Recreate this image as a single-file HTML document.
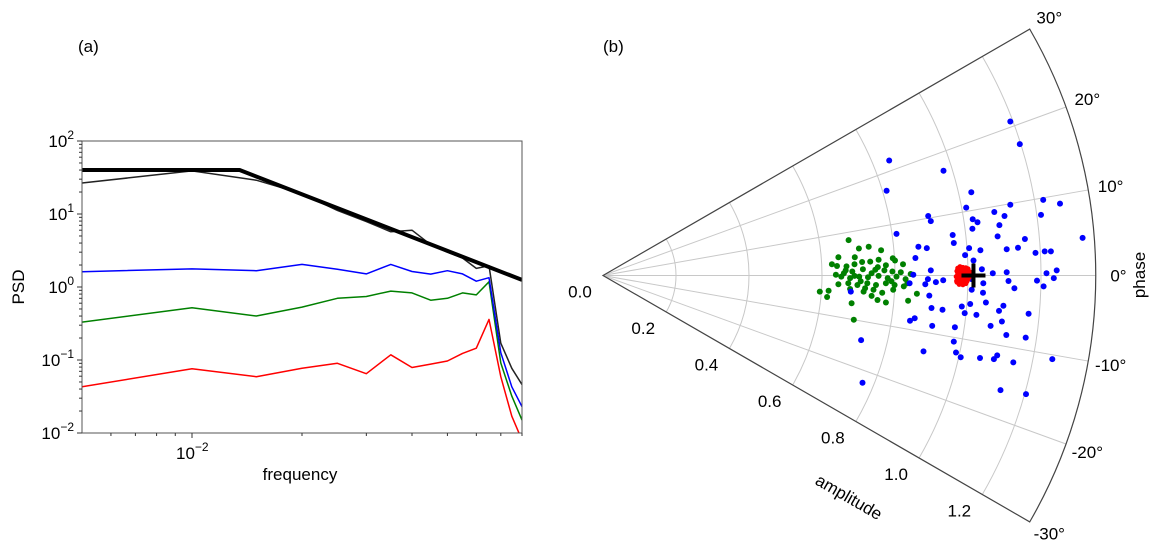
<!DOCTYPE html>
<html><head><meta charset="utf-8"><style>
html,body{margin:0;padding:0;background:#fff;}
svg{display:block;font-family:"Liberation Sans","DejaVu Sans",sans-serif;}
</style></head><body>
<svg id="fig" width="1159" height="547" viewBox="0 0 1159 547" xmlns="http://www.w3.org/2000/svg">
<rect width="1159" height="547" fill="#fff"/>
<text x="78" y="52" font-size="17">(a)</text>
<text x="603" y="52" font-size="17">(b)</text>
<g id="psd"></g>
<g id="polar"></g>
</svg>
<script>
// ---------- Panel (a) data ----------
const freqs = [0.005,0.01,0.015,0.02,0.025,0.03,0.035,0.04,0.045,0.05,0.055,0.06,0.065,0.07,0.075,0.08];
const psdBlack = [26.6,39,29,19,11.2,7.9,5.7,6.0,3.8,3.0,2.5,1.8,1.95,0.17,0.077,0.046];
const psdBlue = [1.62,1.77,1.67,2.04,1.75,1.51,2.04,1.63,1.50,1.67,1.51,1.2,1.34,0.126,0.043,0.023];
const psdGreen = [0.33,0.52,0.40,0.53,0.70,0.74,0.88,0.83,0.66,0.70,0.83,0.78,1.18,0.091,0.032,0.015];
const psdRed = [0.043,0.076,0.059,0.077,0.090,0.065,0.118,0.079,0.088,0.097,0.123,0.145,0.36,0.059,0.017,0.008];
const modelFreq = [0.005,0.0135,0.08];
const modelPsd = [40,40,1.25];
const yTickExps = [-2,-1,0,1,2];
const xTickExps = [-2];

// ---------- Panel (b) data ----------
const blueRe = [1.116,1.142,0.784,0.933,0.777,1.009,1.206,1.252,1.116,0.995,1.072,1.100,1.200,0.891,0.898,1.013,1.026,1.086,1.012,0.804,0.958,1.081,1.314,0.961,1.156,0.864,0.887,1.003,1.034,1.106,1.137,1.185,1.210,1.227,0.856,0.992,1.015,0.898,1.038,1.068,1.106,1.215,1.243,1.189,1.235,0.850,0.890,0.912,0.932,0.883,1.042,1.111,1.207,1.127,0.840,1.010,1.041,0.894,1.049,1.006,0.983,1.097,1.085,0.900,0.930,0.991,1.023,1.166,0.854,0.841,1.093,1.062,0.902,0.964,1.105,1.158,0.707,0.961,0.878,0.967,0.980,1.033,1.071,1.080,1.124,1.231,0.711,1.089,1.159,0.679,1.010];
const blueIm = [0.422,0.360,0.315,0.287,0.232,0.228,0.207,0.197,0.194,0.186,0.174,0.163,0.166,0.163,0.149,0.154,0.146,0.138,0.128,0.114,0.111,0.107,0.103,0.089,0.100,0.079,0.075,0.075,0.069,0.072,0.076,0.062,0.066,0.066,0.048,0.056,0.041,0.014,0.017,0.006,0.009,0.006,0.014,-0.014,-0.007,0.002,-0.010,-0.018,-0.013,-0.024,-0.021,-0.015,-0.030,-0.035,-0.021,-0.039,-0.047,-0.055,-0.074,-0.078,-0.085,-0.083,-0.097,-0.089,-0.094,-0.103,-0.108,-0.105,-0.117,-0.124,-0.126,-0.138,-0.138,-0.142,-0.163,-0.170,-0.177,-0.181,-0.208,-0.211,-0.224,-0.226,-0.229,-0.219,-0.238,-0.229,-0.294,-0.314,-0.325,-0.044,-0.010];
const greenRe = [.673,.645,.627,.690,.701,.728,.762,.641,.667,.689,.710,.732,.755,.775,.794,.800,.822,.660,.683,.712,.746,.771,.793,.816,.843,.653,.677,.702,.726,.755,.780,.804,.829,.645,.672,.697,.724,.748,.775,.799,.824,.594,.618,.677,.714,.741,.765,.795,.860,.614,.681,.752,.775,.836,.687,.638,.665,.706,.736,.790,.718,.753,.689,.834,.736];
const greenIm = [.097,.050,.031,.050,.074,.079,.069,.026,.025,.031,.037,.038,.043,.028,.047,.041,.031,.006,.011,.017,.016,.014,.011,.009,.004,-.003,-.007,-.003,-.005,-.001,-.007,-.003,-.010,-.024,-.021,-.026,-.021,-.026,-.021,-.026,-.030,-.044,-.042,-.037,-.044,-.039,-.047,-.039,-.050,-.059,-.076,-.067,-.074,-.069,-.121,.002,.014,-.016,.006,-.016,-.035,.023,-.001,-.021,-.056];
const redRe = [0.972,0.978,0.986,0.994,1.000,0.970,0.980,0.990,0.998,1.004,0.972,0.982,0.992,1.000,0.968,0.978,0.988,0.996,1.004,0.971,0.983,0.992,1.000,0.970,0.979,0.989,0.997,0.976,0.986,0.994,0.973,0.993,0.981,1.002,0.969];
const redIm = [0.020,0.024,0.022,0.021,0.018,0.012,0.014,0.013,0.012,0.010,0.004,0.005,0.003,0.002,-0.003,-0.004,-0.002,-0.005,-0.003,-0.011,-0.012,-0.010,-0.010,-0.018,-0.019,-0.017,-0.016,-0.024,-0.025,-0.022,0.008,0.016,-0.008,0.000,-0.015];
const refAmp = [1.015];
const refPhase = [0];
const ampTicks = [0.0,0.2,0.4,0.6,0.8,1.0,1.2];
const phaseTicks = [-30,-20,-10,0,10,20,30];

const NS = "http://www.w3.org/2000/svg";
function mk(tag, attrs, parent, txt){
  const e = document.createElementNS(NS, tag);
  for (const k in attrs) e.setAttribute(k, attrs[k]);
  if (txt !== undefined) e.textContent = txt;
  parent.appendChild(e);
  return e;
}

// ---------- Panel (a) ----------
const A = {x0:82, x1:522, y0:141, y1:433};
const fMin = 0.005, fMax = 0.08;
function xs(f){ return A.x0 + (Math.log10(f)-Math.log10(fMin))/(Math.log10(fMax)-Math.log10(fMin))*(A.x1-A.x0); }
function ys(v){ return A.y1 - (Math.log10(v)+2)/4*(A.y1-A.y0); }
const gA = document.getElementById('psd');
const clip = mk('clipPath',{id:'clipA'},gA);
mk('rect',{x:A.x0,y:A.y0,width:A.x1-A.x0,height:A.y1-A.y0},clip);

function line(xsArr, ysArr, color, w, name){
  const d = xsArr.map((f,i)=>(i?'L':'M')+xs(f).toFixed(1)+','+ys(ysArr[i]).toFixed(1)).join('');
  const p = mk('path',{d:d,fill:'none',stroke:color,'stroke-width':w,'clip-path':'url(#clipA)','stroke-linejoin':'round'},gA);
  
  
}
line(freqs, psdRed, '#ff0000', 1.5, 'psd-red-line');
line(freqs, psdGreen, '#008000', 1.5, 'psd-green-line');
line(freqs, psdBlue, '#0000ff', 1.5, 'psd-blue-line');
line(freqs, psdBlack, '#222', 1.5, 'psd-black-line');
line(modelFreq, modelPsd, '#000', 4, 'psd-model-line');

const frame = mk('rect',{x:A.x0,y:A.y0,width:A.x1-A.x0,height:A.y1-A.y0,fill:'none',stroke:'#555','stroke-width':1},gA);



yTickExps.forEach(e=>{
  const y = ys(Math.pow(10,e));
  mk('line',{x1:A.x0-5,x2:A.x0,y1:y,y2:y,stroke:'#333'},gA);
  const t = mk('text',{x:A.x0-8,y:y+6,'font-size':17,'text-anchor':'end'},gA);
  
  
  mk('tspan',{},t,'10');
  mk('tspan',{dy:-8,'font-size':12},t,String(e).replace('-','\u2212'));
  if (e<2) for(let k=2;k<10;k++){
    const yy = ys(k*Math.pow(10,e));
    mk('line',{x1:A.x0-3,x2:A.x0,y1:yy,y2:yy,stroke:'#333'},gA);
  }
});
xTickExps.forEach(e=>{
  const x = xs(Math.pow(10,e));
  mk('line',{x1:x,x2:x,y1:A.y1,y2:A.y1+5,stroke:'#333'},gA);
  const t = mk('text',{x:x-16,y:A.y1+26,'font-size':17},gA);
  
  
  mk('tspan',{},t,'10');
  mk('tspan',{dy:-8,'font-size':12},t,'\u22122');
});
[0.006,0.007,0.008,0.009,0.02,0.03,0.04,0.05,0.06,0.07,0.08].forEach(f=>{
  const x = xs(f);
  mk('line',{x1:x,x2:x,y1:A.y1,y2:A.y1+3,stroke:'#333'},gA);
});
const xl = mk('text',{x:300,y:480,'font-size':17,'text-anchor':'middle'},gA,'frequency');


const yl = mk('text',{x:0,y:0,'font-size':17,'text-anchor':'middle',transform:'translate(24,287) rotate(-90)'},gA,'PSD');



// ---------- Panel (b) ----------
const gB = document.getElementById('polar');
const C = {x:603, y:275.5};
const S = 365;
const rMax = 1.35;
const rad = d=>d*Math.PI/180;
function px(a,th){ return [C.x + a*S*Math.cos(rad(th)), C.y - a*S*Math.sin(rad(th))]; }
function arc(a, col, w){
  const p1 = px(a,-30), p2 = px(a,30), r=a*S;
  return mk('path',{d:`M${p1[0]},${p1[1]} A${r},${r} 0 0 0 ${p2[0]},${p2[1]}`,fill:'none',stroke:col,'stroke-width':w},gB);
}
ampTicks.forEach(a=>{ if(a>0){ const g=arc(a,'#c8c8c8',1);   }});
phaseTicks.forEach(th=>{
  if (Math.abs(th)<30){
    const p = px(rMax,th);
    const l = mk('line',{x1:C.x,y1:C.y,x2:p[0],y2:p[1],stroke:'#c8c8c8','stroke-width':1},gB);
    
    
  }
});
const e1 = px(rMax,30), e2 = px(rMax,-30);
const fr = mk('path',{d:`M${C.x},${C.y} L${e1[0]},${e1[1]} A${rMax*S},${rMax*S} 0 0 1 ${e2[0]},${e2[1]} Z`,fill:'none',stroke:'#444','stroke-width':1.2},gB);



function dots(re, im, col, r, name){
  re.forEach((x,i)=>{
    const a = Math.hypot(x, im[i]);
    const th = Math.atan2(im[i], x)*180/Math.PI;
    const p = px(a,th);
    const c = mk('circle',{cx:p[0].toFixed(1),cy:p[1].toFixed(1),r:r,fill:col},gB);
    
    
  });
}
dots(greenRe, greenIm, '#008000', 3, 'green-point');
dots(blueRe, blueIm, '#0000ff', 3, 'blue-point');
dots(redRe, redIm, '#ff0000', 2.6, 'red-point');
refAmp.forEach((a,i)=>{
  const p = px(a, refPhase[i]);
  const m = mk('path',{d:`M${p[0]-12},${p[1]} H${p[0]+12} M${p[0]},${p[1]-12} V${p[1]+12}`,stroke:'#000','stroke-width':4},gB);
  
  
});
ampTicks.forEach(a=>{
  const p = px(a,-30);
  const t = mk('text',{x:p[0]-23,y:p[1]+22,'font-size':17,'text-anchor':'middle'},gB,a.toFixed(1));
  
  
});
phaseTicks.forEach(th=>{
  const p = px(rMax+0.065, th);
  const t = mk('text',{x:p[0]-1,y:p[1]+6,'font-size':17,'text-anchor':'middle'},gB,(th<0?'-':'')+Math.abs(th)+'\u00b0');
  
  
});
const at = mk('text',{x:0,y:0,'font-size':17,'text-anchor':'middle',transform:'translate(846,502) rotate(30)'},gB,'amplitude');


const pt = mk('text',{x:0,y:0,'font-size':17,'text-anchor':'middle',transform:'translate(1145,275) rotate(-90)'},gB,'phase');


</script>
</body></html>
